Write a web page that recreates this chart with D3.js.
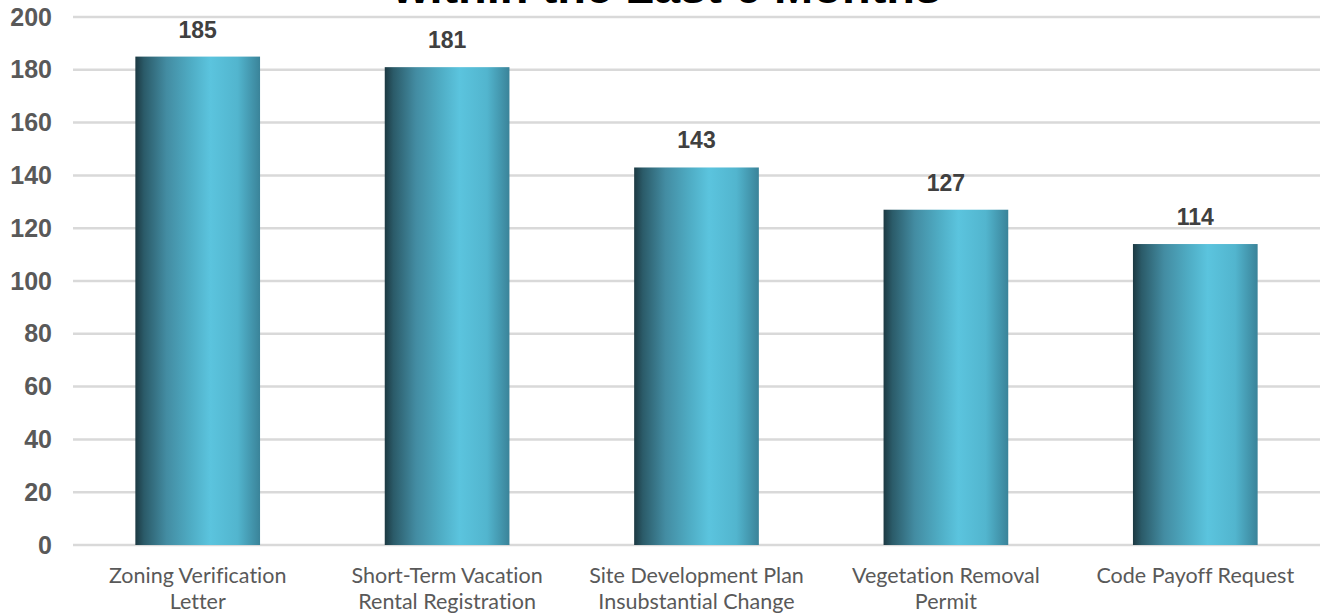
<!DOCTYPE html>
<html>
<head>
<meta charset="utf-8">
<script src="https://cdn.jsdelivr.net/npm/d3@7"></script>
<style>
  body { margin: 0; background: #fff; }
  svg { display: block; }
</style>
</head>
<body>
<div id="chart"></div>
<script>
// chart data
var categories = [
  ["Zoning Verification", "Letter"],
  ["Short-Term Vacation", "Rental Registration"],
  ["Site Development Plan", "Insubstantial Change"],
  ["Vegetation Removal", "Permit"],
  ["Code Payoff Request"]
];
var counts = [185, 181, 143, 127, 114];
var yTicks = [0, 20, 40, 60, 80, 100, 120, 140, 160, 180, 200];
var titleText = "within the Last 6 Months";

var W = 1327, H = 613;
var margin = { top: 17, right: 7, bottom: 68, left: 73 };
var width = W - margin.left - margin.right;
var height = H - margin.top - margin.bottom;

var svg = d3.select('#chart').append('svg')
  .attr('width', W)
  .attr('height', H);

// horizontal gradient for bars
var grad = svg.append('defs').append('linearGradient')
  .attr('id', 'barGrad')
  .attr('x1', '0%').attr('x2', '100%')
  .attr('y1', '0%').attr('y2', '0%');
[
  [0, '#1c3942'], [0.07, '#2b5b69'], [0.25, '#438ca2'], [0.45, '#4fadc5'],
  [0.6, '#5bc4de'], [0.82, '#52b5ce'], [1, '#3a8399']
].forEach(function (s) {
  grad.append('stop').attr('offset', s[0]).attr('stop-color', s[1]);
});

var g = svg.append('g')
  .attr('transform', 'translate(' + margin.left + ',' + margin.top + ')');

var keys = categories.map(function (c) { return c.join(' '); });

var x = d3.scaleBand().domain(keys).range([0, width])
  .paddingInner(0.5).paddingOuter(0.25);
var y = d3.scaleLinear().domain([0, 200]).range([height, 0]);

// gridlines
g.append('g')
  .selectAll('line')
  .data(yTicks)
  .enter().append('line')
  .attr('x1', 0).attr('x2', width)
  .attr('y1', function (d) { return y(d); })
  .attr('y2', function (d) { return y(d); })
  .attr('stroke', '#d9d9d9')
  .attr('stroke-width', 2.5);

// y axis labels
var yAxis = g.append('g')
  .call(d3.axisLeft(y).tickValues(yTicks).tickSize(0).tickPadding(21));
yAxis.select('.domain').remove();
yAxis.selectAll('text')
  .attr('fill', '#595959')
  .style('font-family', '"Liberation Sans", Arial, sans-serif')
  .style('font-size', '25px')
  .style('font-weight', 'bold');

// bars
g.selectAll('.bar')
  .data(counts)
  .enter().append('rect')
  .attr('class', 'bar')
  .attr('x', function (d, i) { return x(keys[i]); })
  .attr('width', x.bandwidth())
  .attr('y', function (d) { return y(d); })
  .attr('height', function (d) { return height - y(d); })
  .attr('fill', 'url(#barGrad)');

// value labels
g.selectAll('.val')
  .data(counts)
  .enter().append('text')
  .attr('class', 'val')
  .attr('x', function (d, i) { return x(keys[i]) + x.bandwidth() / 2; })
  .attr('y', function (d) { return y(d) - 19; })
  .attr('text-anchor', 'middle')
  .attr('fill', '#404040')
  .style('font-family', '"Liberation Sans", Arial, sans-serif')
  .style('font-size', '23px')
  .style('font-weight', 'bold')
  .text(function (d) { return d; });

// category labels, one text per line
var xAxis = g.append('g')
  .attr('transform', 'translate(0,' + height + ')')
  .call(d3.axisBottom(x).tickSize(0).tickFormat(''));
xAxis.select('.domain').remove();
xAxis.selectAll('.tick').each(function (d, i) {
  var tick = d3.select(this);
  categories[i].forEach(function (line, j) {
    tick.append('text')
      .attr('x', 0)
      .attr('y', 38 + j * 26)
      .attr('text-anchor', 'middle')
      .attr('fill', '#595959')
      .style('font-family', 'Lato, sans-serif')
      .style('font-size', '21.5px')
      .style('font-variant-ligatures', 'none')
      .text(line);
  });
});

// title (mostly cut off at the top, as in the source image)
svg.append('text')
  .attr('x', 667)
  .attr('y', 3)
  .attr('text-anchor', 'middle')
  .attr('fill', '#000')
  .style('font-family', '"Liberation Sans", Arial, sans-serif')
  .style('font-size', '47px')
  .style('font-weight', 'bold')
  .text(titleText);
</script>
</body>
</html>
